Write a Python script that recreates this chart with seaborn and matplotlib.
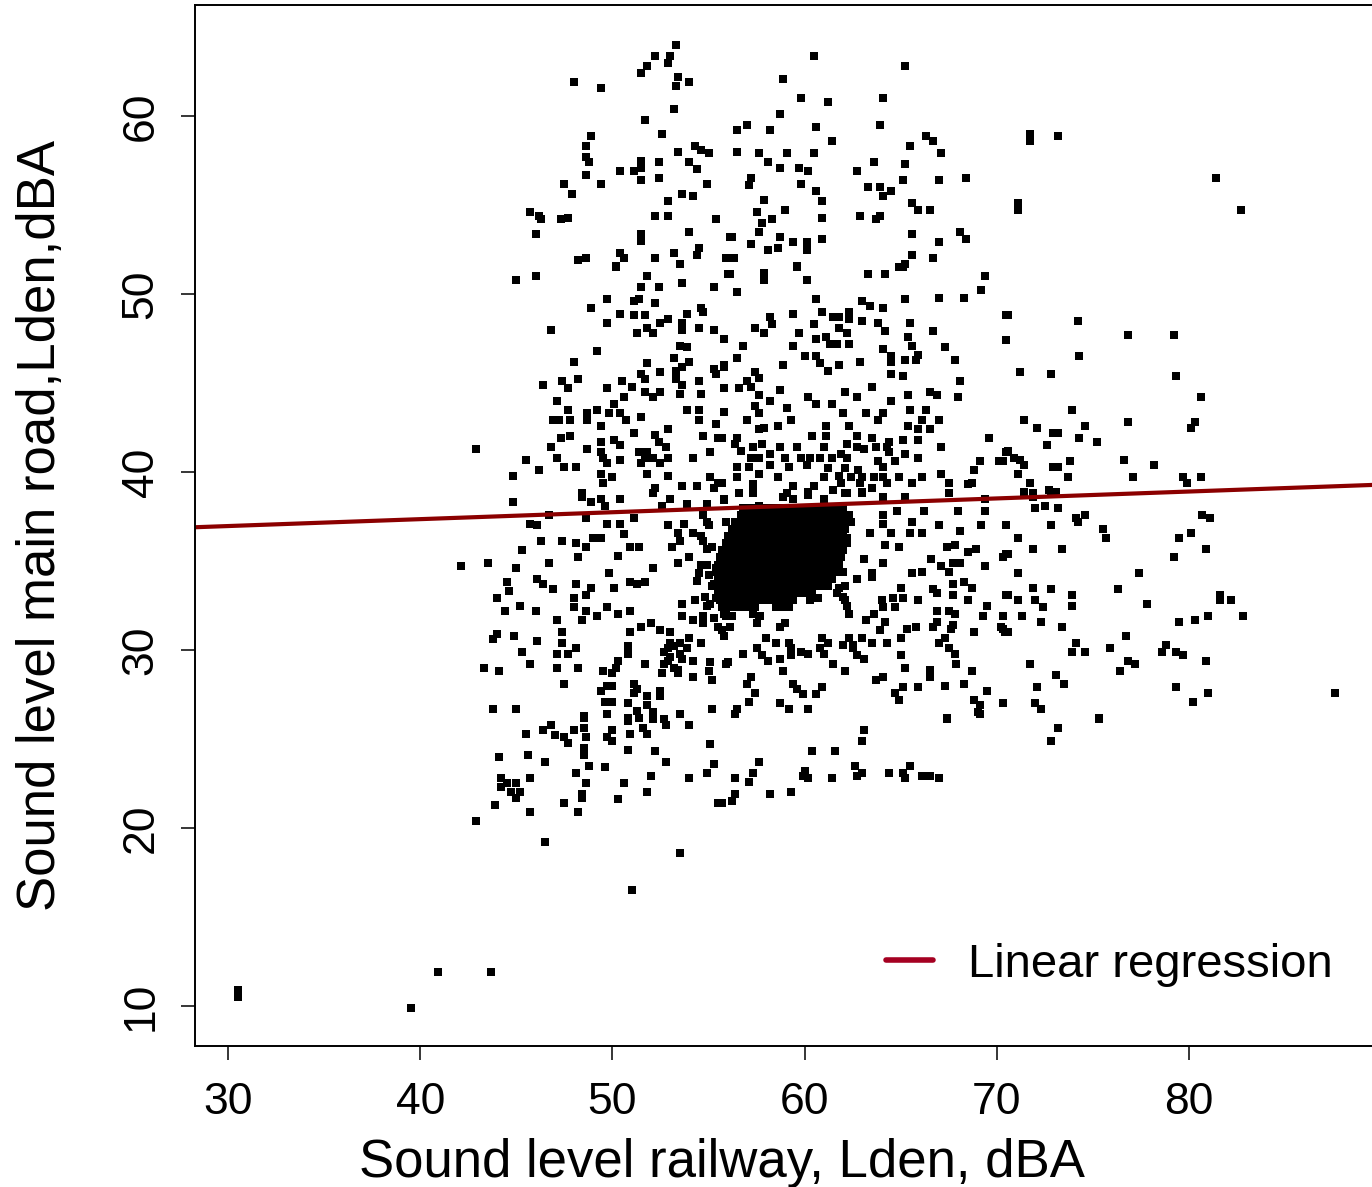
import numpy as np
import pandas as pd
import matplotlib
matplotlib.use("Agg")
import matplotlib.pyplot as plt
import seaborn as sns

# ---------------- data (railway Lden, main road Lden) ----------------
pts_top_left = [(53.3,64.0),(52.2,63.4),(53.0,63.4),(51.8,62.8),(52.9,63.0),(51.5,62.4),(53.4,62.2),(53.3,61.7),(54.0,61.9),(48.0,61.9),(49.4,61.6),(53.2,60.4),(51.7,59.8),(52.6,59.0),(48.9,58.9),(48.6,58.3),(53.4,58.0),(54.3,58.3),(54.6,58.1),(55.0,57.9),(48.6,57.7),(48.8,57.4),(51.5,57.5),(52.4,57.4),(54.0,57.4),(51.5,57.1),(54.4,57.0),(50.4,56.9),(51.1,56.9),(48.6,56.7),(51.5,56.4),(52.4,56.5),(47.5,56.2),(49.4,56.2),(54.9,56.2),(47.9,55.6),(53.6,55.6),(54.2,55.5),(52.9,55.2),(45.7,54.6),(46.2,54.4),(46.3,54.2),(47.3,54.2),(47.7,54.3),(52.2,54.4),(52.9,54.4),(55.4,54.2),(46.0,53.4),(51.5,53.4),(51.5,53.0),(54.0,53.5),(54.5,52.6),(54.4,52.2),(53.2,52.3),(52.2,52.0),(55.9,52.0),(48.2,51.9),(48.6,52.0),(50.4,52.3),(50.6,52.0),(53.5,51.7),(50.2,51.6),(56.1,53.2)]

pts_top_center = [(60.5,63.4),(65.2,62.8),(58.9,62.1),(59.8,61.0),(61.2,60.8),(64.1,61.0),(58.7,60.1),(57.0,59.5),(56.5,59.2),(58.2,59.2),(60.6,59.4),(63.9,59.5),(61.4,58.6),(66.3,58.9),(66.7,58.6),(65.5,58.3),(67.1,57.9),(56.5,58.0),(57.6,57.9),(59.1,57.9),(60.5,57.9),(58.1,57.4),(58.7,57.1),(59.7,57.1),(60.2,56.9),(63.6,57.4),(65.2,57.3),(62.7,56.9),(57.2,56.5),(57.1,56.1),(59.8,56.2),(60.6,55.8),(65.1,56.4),(67.0,56.4),(68.4,56.5),(63.3,56.0),(63.9,56.0),(64.5,55.8),(64.1,55.5),(57.9,55.3),(60.9,55.2),(65.6,55.1),(65.9,54.7),(66.5,54.7),(57.5,54.6),(59.0,54.7),(58.3,54.2),(57.8,54.0),(60.9,54.3),(62.9,54.4),(63.9,54.4),(63.7,54.2),(57.6,53.5),(56.2,53.2),(58.7,53.2),(57.2,52.8),(58.1,52.5),(58.6,52.6),(59.4,52.9),(60.1,52.9),(60.1,52.5),(60.9,53.1),(65.6,53.4),(67.0,52.9),(68.1,53.5),(68.4,53.1),(55.9,52.0),(56.3,52.0),(59.6,51.6),(65.6,52.2),(65.2,51.7),(66.7,52.0),(64.9,51.5)]

pts_top_right = [(71.7,58.6),(71.7,59.0),(73.2,58.9),(81.4,56.5),(71.1,54.7),(71.1,55.1),(82.7,54.7)]

pts_mid_left = [(45.0,50.8),(46.0,51.0),(50.2,51.5),(51.8,51.0),(51.5,50.4),(52.4,50.4),(53.6,50.6),(55.3,50.4),(56.0,51.1),(49.7,49.7),(48.9,49.2),(51.1,49.6),(51.4,49.7),(52.2,49.5),(50.4,48.9),(51.1,48.8),(51.7,48.8),(49.7,48.4),(52.9,48.6),(52.5,48.4),(53.9,48.9),(54.6,49.2),(54.7,49.0),(53.6,48.4),(53.6,48.0),(51.8,48.1),(52.1,47.8),(51.3,47.8),(46.8,48.0),(54.5,48.1),(55.3,48.0),(55.8,47.5),(53.5,47.1),(53.9,47.0),(49.2,46.8),(48.0,46.2),(53.2,46.4),(54.0,46.2),(51.8,46.1),(53.6,45.9),(53.3,45.7),(52.5,45.6),(55.3,45.8),(55.8,46.0),(55.4,45.5),(51.5,45.5),(51.7,45.2),(53.3,45.2),(48.2,45.2),(47.4,45.1),(47.7,44.7),(46.4,44.9),(50.5,45.1),(51.0,44.8),(49.7,44.7),(53.6,44.9),(54.5,45.1),(55.8,44.7),(51.7,44.5),(52.5,44.5),(52.1,44.2),(53.5,44.4),(54.6,44.4),(47.1,44.0),(50.6,44.2),(47.7,43.5),(49.2,43.5),(48.7,43.3),(50.1,43.8),(49.8,43.3),(50.4,43.3),(53.9,43.5),(54.5,43.5),(55.8,43.4),(46.9,42.9),(47.2,42.9),(47.8,42.9),(48.7,42.9),(50.7,42.9),(51.5,43.1),(54.5,42.9),(55.4,42.7),(49.4,42.6),(51.1,42.2),(52.2,42.1),(52.9,42.4),(54.7,42.0),(55.5,41.9),(47.8,42.0),(47.3,41.9),(49.4,41.7),(50.1,41.8),(50.4,41.5),(52.4,41.7),(52.8,41.4),(46.8,41.4),(48.7,41.3),(42.9,41.3),(55.1,41.1),(49.4,41.1),(51.4,41.1),(51.8,41.1),(45.5,40.7),(47.1,40.8),(49.5,40.8),(50.4,40.7),(51.7,40.8),(52.1,40.8),(52.9,40.8),(54.2,40.8),(49.7,40.5),(51.5,40.5),(52.5,40.5),(46.2,40.1),(47.5,40.3),(48.1,40.3),(44.8,39.8),(49.4,39.9),(51.8,39.9),(52.9,39.8),(50.0,39.7),(49.5,39.4),(53.6,39.2),(54.4,39.2),(55.1,39.7),(55.5,39.4),(55.3,39.1),(52.2,39.1),(48.4,38.8)]

pts_mid_center = [(56.1,51.1),(57.9,51.2),(57.9,50.8),(59.6,51.5),(60.1,50.8),(63.3,51.1),(64.2,51.1),(65.1,51.5),(69.4,51.0),(56.5,50.1),(60.6,49.7),(63.0,49.6),(63.4,49.3),(64.1,49.2),(65.2,49.7),(67.0,49.8),(68.3,49.8),(69.2,50.2),(59.4,48.9),(60.9,49.0),(62.3,49.0),(62.3,48.6),(58.2,48.7),(58.3,48.3),(57.4,48.1),(61.5,48.7),(61.8,48.7),(60.5,48.3),(61.8,48.1),(63.0,48.5),(63.8,48.4),(65.5,48.4),(70.5,48.8),(57.9,47.8),(59.7,47.8),(62.2,47.8),(64.2,47.9),(65.4,47.6),(66.7,47.9),(55.8,47.5),(56.8,47.1),(59.4,47.1),(60.6,47.5),(61.1,47.6),(61.3,47.2),(61.7,47.2),(62.3,47.2),(65.6,47.1),(67.3,47.0),(70.5,47.4),(56.5,46.4),(60.0,46.5),(60.6,46.5),(64.1,46.9),(64.5,46.5),(64.5,46.2),(65.2,46.3),(65.9,46.6),(65.8,46.3),(67.8,46.3),(60.8,46.1),(62.9,46.2),(55.8,45.9),(58.9,46.0),(61.2,45.7),(61.8,46.0),(57.4,45.6),(57.6,45.3),(64.5,45.5),(65.1,45.4),(57.0,45.1),(68.1,45.1),(55.8,44.7),(56.6,44.7),(57.2,44.8),(58.7,44.6),(63.5,44.8),(62.1,44.5),(57.6,44.3),(58.2,44.0),(60.2,44.2),(60.6,43.8),(61.4,43.8),(62.7,44.2),(64.5,44.0),(65.4,44.3),(66.5,44.5),(66.9,44.3),(68.0,44.2),(55.8,43.4),(57.4,43.7),(57.6,43.3),(59.1,43.6),(59.3,42.9),(57.0,42.9),(58.6,42.6),(57.6,42.4),(57.9,42.5),(62.0,43.3),(63.2,43.3),(64.1,43.3),(63.8,42.9),(65.5,43.5),(66.3,43.5),(67.0,42.9),(66.1,42.9),(61.1,42.6),(62.3,42.6),(65.4,42.6),(65.9,42.4),(66.5,42.4),(55.7,41.9),(56.5,41.9),(60.4,42.0),(61.1,42.0),(62.7,42.0),(63.5,41.9),(64.4,41.7),(65.1,41.8),(65.9,41.8),(69.6,41.9),(56.4,41.6),(57.3,41.4),(57.8,41.6),(58.7,41.4),(59.6,41.4),(61.0,41.4),(62.2,41.6),(62.7,41.4),(63.1,41.3),(63.7,41.4),(64.3,41.4),(67.1,41.4),(70.5,41.1),(56.7,41.2),(58.2,41.0),(57.2,40.8),(57.6,40.8),(59.0,40.8),(59.8,40.8),(60.3,40.8),(60.8,40.8),(61.4,40.8),(61.9,41.0),(62.2,40.8),(64.4,41.1),(65.2,41.0),(65.9,40.8),(63.8,40.6),(64.7,40.6),(69.1,40.6),(70.1,40.6),(56.5,40.3),(57.1,40.3),(58.2,40.4),(59.2,40.3),(60.1,40.4),(61.2,40.2),(62.1,40.2),(62.8,40.1),(64.1,40.3),(68.8,40.1),(57.6,39.9),(56.5,39.7),(58.6,39.7),(61.0,39.7),(61.8,39.8),(62.4,39.7),(63.0,39.7),(63.6,39.7),(64.1,39.7),(64.9,39.7),(66.1,39.7),(67.1,39.9),(55.7,39.4),(57.3,39.3),(59.4,39.2),(60.5,39.2),(61.9,39.4),(62.9,39.4),(64.3,39.4),(65.6,39.4),(67.5,39.4),(68.5,39.3),(56.6,38.8),(57.3,38.9),(59.1,38.8),(60.2,38.9),(61.5,39.0),(62.1,38.8),(63.0,38.9),(63.5,39.1),(67.5,38.8),(68.7,39.4)]

pts_mid_right = [(70.6,48.8),(74.2,48.5),(76.8,47.7),(79.2,47.7),(70.5,47.4),(74.3,46.5),(71.2,45.6),(72.8,45.5),(79.3,45.4),(80.6,44.2),(73.9,43.5),(71.4,42.9),(72.1,42.5),(74.6,42.6),(76.8,42.8),(80.3,42.8),(80.1,42.5),(72.9,42.2),(73.2,42.2),(74.3,41.9),(75.2,41.7),(72.6,41.5),(70.6,41.2),(70.9,40.8),(71.2,40.7),(70.3,40.6),(71.4,40.4),(71.1,39.9),(72.9,40.3),(73.2,40.3),(73.8,40.6),(76.6,40.7),(78.2,40.4),(73.7,39.7),(77.1,39.7),(79.7,39.7),(80.6,39.7),(79.9,39.4),(71.7,39.4),(72.7,39.0),(73.1,38.9),(71.4,38.9),(71.9,38.8)]

pts_low_left = [(44.8,38.3),(48.4,38.6),(48.9,38.3),(49.4,38.5),(49.6,38.1),(50.4,38.5),(52.1,38.8),(53.0,38.5),(52.6,38.1),(53.9,38.2),(54.9,38.2),(55.8,38.5),(46.7,37.6),(45.7,37.1),(46.1,37.0),(48.6,37.4),(49.7,37.1),(50.4,37.1),(51.1,37.4),(52.9,37.0),(53.7,37.1),(54.7,37.6),(54.9,37.2),(55.9,37.2),(53.4,36.6),(54.2,36.6),(50.6,36.5),(49.0,36.3),(49.4,36.3),(46.3,36.1),(47.4,36.1),(48.1,36.0),(48.6,35.8),(50.9,35.8),(51.4,35.8),(53.5,36.1),(53.1,35.8),(54.7,36.1),(54.9,35.7),(45.3,35.6),(55.9,35.3),(50.3,35.3),(48.2,35.2),(54.0,35.2),(42.1,34.7),(43.5,34.9),(45.0,34.6),(46.7,34.9),(52.1,34.6),(53.4,34.9),(54.6,34.8),(55.4,34.6),(49.8,34.3),(54.5,34.3),(44.5,33.8),(46.1,34.0),(46.4,33.7),(46.9,33.4),(48.1,33.7),(48.9,33.5),(48.6,33.1),(50.1,33.5),(50.9,33.8),(51.3,33.7),(51.7,33.8),(55.3,33.7),(44.6,33.3),(44.0,32.9),(48.0,32.9),(55.4,32.9),(56.0,32.8),(45.2,32.5),(46.0,32.2),(44.4,32.2),(48.0,32.4),(48.6,32.2),(49.7,32.4),(50.9,32.2),(53.6,32.6),(54.9,32.5),(55.9,32.2),(47.1,31.7),(48.4,31.7),(49.2,31.9),(50.3,32.0),(53.6,31.9),(54.2,31.7),(54.7,31.9),(55.9,31.9),(52.0,31.5),(51.5,31.3),(52.5,31.1),(53.0,31.0),(55.5,31.3),(44.0,30.9),(44.9,30.8),(47.4,31.0),(50.9,31.0),(55.8,30.8),(43.8,30.6),(46.1,30.5),(54.0,30.7),(47.4,30.4),(53.0,30.4),(53.5,30.4),(54.6,30.4),(50.8,30.2),(52.9,30.1),(48.1,30.1),(47.7,29.8),(45.3,29.9),(47.1,29.8),(53.9,30.1),(50.8,29.8),(53.0,29.6),(53.5,29.8),(50.3,29.4),(43.3,29.0),(45.7,29.2),(47.1,29.0),(48.2,29.0),(50.2,29.0),(51.7,29.2),(52.7,29.2),(53.2,29.0),(54.2,29.4),(55.1,29.3),(55.9,29.2),(44.1,28.8),(49.5,28.8),(50.0,28.7),(52.6,28.7),(53.4,28.7),(55.0,28.8),(54.2,28.5),(55.2,28.3),(47.5,28.1),(49.7,28.0),(50.0,28.0),(51.1,28.1),(51.3,27.8),(49.4,27.7),(52.5,27.7),(51.8,27.4),(51.1,27.6),(52.5,27.4),(49.6,27.1),(50.0,27.1),(50.8,27.0),(51.8,26.9),(43.8,26.7),(45.0,26.7),(51.3,26.6),(52.1,26.5),(53.5,26.4),(55.2,26.7),(48.5,26.3),(49.7,26.4),(50.8,26.2),(52.1,26.2),
    (52.7,29.9),(53.2,30.2),(53.6,29.5),(52.9,29.4),(53.4,28.9),
    (55.0,34.2),(55.2,33.6),(54.8,33.0),(55.1,32.6),(54.9,34.8),(55.2,35.8),(54.6,36.4),(55.0,37.0),(54.4,33.9),(54.3,32.8),(55.3,31.8),(54.7,31.5)]

pts_low_center = [(56.6,38.8),(57.3,38.8),(58.9,38.6),(59.4,38.5),(60.2,38.7),(61.0,38.5),(62.2,38.8),(63.0,38.8),(64.1,38.6),(65.2,38.6),(67.5,38.8),(69.4,38.5),(55.8,38.4),(57.6,38.1),(64.1,37.6),(64.1,37.1),(64.8,37.8),(66.2,37.8),(68.0,37.8),(69.4,37.8),(65.6,37.2),(67.0,37.0),(68.1,36.7),(69.2,37.0),(70.5,37.0),(63.4,36.6),(64.5,36.6),(65.5,36.6),(66.1,36.6),(62.2,36.3),(64.2,35.9),(64.9,35.8),(67.4,35.8),(67.8,35.9),(68.5,35.5),(68.9,35.7),(70.5,35.4),(70.3,35.2),(63.1,35.1),(64.1,34.9),(66.6,35.1),(67.1,34.7),(67.7,34.9),(68.1,34.9),(69.4,34.7),(67.5,34.4),(66.1,34.4),(65.6,34.3),(62.7,34.0),(63.5,34.1),(63.5,34.3),(67.7,33.7),(68.3,33.8),(68.7,33.5),(65.0,33.5),(66.7,33.4),(66.9,33.2),(67.7,33.1),(68.5,32.8),(70.5,33.1),(64.0,32.8),(64.6,32.9),(65.1,32.9),(65.9,32.8),(69.5,32.5),(62.2,32.5),(62.1,32.8),(64.1,32.4),(64.7,32.4),(66.9,32.2),(67.5,32.2),(67.8,32.0),(62.3,32.0),(63.6,32.0),(63.2,31.7),(69.3,31.9),(70.3,31.9),(66.9,31.6),(57.6,31.9),(57.5,31.5),(56.1,31.3),(55.7,31.1),(59.0,31.5),(58.7,31.3),(64.2,31.6),(63.9,31.1),(65.3,31.2),(65.8,31.3),(66.7,31.3),(67.7,31.4),(67.6,31.2),(68.8,31.0),(70.2,31.3),(70.4,31.0),(58.0,30.7),(58.5,30.4),(59.2,30.4),(60.9,30.7),(61.2,30.4),(62.3,30.7),(62.5,30.3),(63.0,30.7),(63.5,30.4),(64.3,30.4),(65.0,30.7),(67.0,30.4),(67.3,30.7),(67.5,30.1),(67.8,29.8),(56.8,29.8),(57.5,30.1),(57.8,29.7),(58.1,29.4),(59.3,30.1),(59.8,29.9),(60.2,29.8),(59.3,29.7),(60.8,30.1),(61.0,29.8),(62.0,30.3),(62.5,30.1),(62.7,29.7),(63.1,29.5),(58.7,29.5),(65.0,29.7),(67.9,29.2),(56.0,29.3),(61.5,29.2),(58.9,28.8),(62.1,28.8),(65.2,29.0),(66.5,28.9),(66.5,28.5),(68.7,28.8),(57.2,28.5),(57.0,28.1),(59.4,28.1),(59.6,27.8),(59.9,27.5),(57.4,27.6),(60.9,27.9),(60.6,27.5),(63.7,28.3),(64.1,28.5),(65.1,27.9),(64.7,27.6),(65.9,27.9),(67.3,28.0),(68.3,28.1),(69.5,27.7),(64.9,27.2),(68.8,27.2),(69.1,26.9),(70.3,27.0),(57.1,27.1),(56.5,26.7),(58.7,27.0),(59.2,26.7),(60.2,26.7),(69.0,26.5),(67.4,26.2)]

pts_core = [(56.8,38.0),(57.1,38.0),(57.5,38.0),(57.8,38.0),(58.2,38.0),(58.5,38.0),(58.9,38.0),(59.2,38.0),(59.6,38.0),(59.9,38.0),(60.3,38.0),(60.6,38.0),(61.0,38.0),(61.3,38.0),(61.7,38.0),(62.0,38.0),
    (56.7,37.6),(57.0,37.6),(57.4,37.6),(57.7,37.6),(58.1,37.6),(58.4,37.6),(58.8,37.6),(59.1,37.6),(59.5,37.6),(59.8,37.6),(60.2,37.6),(60.5,37.6),(60.9,37.6),(61.2,37.6),(61.6,37.6),(61.9,37.6),(62.3,37.6),
    (56.4,37.2),(56.8,37.2),(57.1,37.2),(57.5,37.2),(57.8,37.2),(58.2,37.2),(58.5,37.2),(58.9,37.2),(59.2,37.2),(59.6,37.2),(59.9,37.2),(60.3,37.2),(60.6,37.2),(61.0,37.2),(61.3,37.2),(61.7,37.2),(62.0,37.2),(62.4,37.2),
    (56.2,36.8),(56.5,36.8),(56.9,36.8),(57.2,36.8),(57.6,36.8),(57.9,36.8),(58.3,36.8),(58.6,36.8),(59.0,36.8),(59.3,36.8),(59.7,36.8),(60.0,36.8),(60.4,36.8),(60.7,36.8),(61.1,36.8),(61.4,36.8),(61.8,36.8),(62.1,36.8),
    (56.0,36.4),(56.4,36.4),(56.7,36.4),(57.1,36.4),(57.4,36.4),(57.8,36.4),(58.1,36.4),(58.5,36.4),(58.8,36.4),(59.2,36.4),(59.5,36.4),(59.9,36.4),(60.2,36.4),(60.6,36.4),(60.9,36.4),(61.3,36.4),(61.6,36.4),(62.0,36.4),
    (55.9,36.0),(56.2,36.0),(56.6,36.0),(56.9,36.0),(57.3,36.0),(57.6,36.0),(58.0,36.0),(58.3,36.0),(58.7,36.0),(59.0,36.0),(59.4,36.0),(59.7,36.0),(60.1,36.0),(60.4,36.0),(60.8,36.0),(61.1,36.0),(61.5,36.0),(61.8,36.0),(62.2,36.0),
    (55.7,35.6),(56.1,35.6),(56.4,35.6),(56.8,35.6),(57.1,35.6),(57.5,35.6),(57.8,35.6),(58.2,35.6),(58.5,35.6),(58.9,35.6),(59.2,35.6),(59.6,35.6),(59.9,35.6),(60.3,35.6),(60.6,35.6),(61.0,35.6),(61.3,35.6),(61.7,35.6),(62.0,35.6),
    (55.6,35.2),(56.0,35.2),(56.3,35.2),(56.7,35.2),(57.0,35.2),(57.4,35.2),(57.7,35.2),(58.1,35.2),(58.4,35.2),(58.8,35.2),(59.1,35.2),(59.5,35.2),(59.8,35.2),(60.2,35.2),(60.5,35.2),(60.9,35.2),(61.2,35.2),(61.6,35.2),(61.9,35.2),
    (55.5,34.8),(55.9,34.8),(56.2,34.8),(56.6,34.8),(56.9,34.8),(57.3,34.8),(57.6,34.8),(58.0,34.8),(58.3,34.8),(58.7,34.8),(59.0,34.8),(59.4,34.8),(59.7,34.8),(60.1,34.8),(60.4,34.8),(60.8,34.8),(61.1,34.8),(61.5,34.8),(61.8,34.8),
    (55.4,34.4),(55.8,34.4),(56.1,34.4),(56.5,34.4),(56.8,34.4),(57.2,34.4),(57.5,34.4),(57.9,34.4),(58.2,34.4),(58.6,34.4),(58.9,34.4),(59.3,34.4),(59.6,34.4),(60.0,34.4),(60.3,34.4),(60.7,34.4),(61.0,34.4),(61.4,34.4),(61.7,34.4),(62.0,34.4),
    (55.5,34.0),(55.8,34.0),(56.2,34.0),(56.5,34.0),(56.9,34.0),(57.2,34.0),(57.6,34.0),(57.9,34.0),(58.3,34.0),(58.6,34.0),(59.0,34.0),(59.3,34.0),(59.7,34.0),(60.0,34.0),(60.4,34.0),(60.7,34.0),(61.1,34.0),(61.4,34.0),
    (55.6,33.6),(55.9,33.6),(56.3,33.6),(56.6,33.6),(57.0,33.6),(57.3,33.6),(57.7,33.6),(58.0,33.6),(58.4,33.6),(58.7,33.6),(59.1,33.6),(59.4,33.6),(59.8,33.6),(60.1,33.6),(60.5,33.6),(60.8,33.6),(61.2,33.6),(61.8,33.5),(62.1,33.6),
    (55.5,33.2),(55.8,33.2),(56.2,33.2),(56.5,33.2),(56.9,33.2),(57.2,33.2),(57.6,33.2),(57.9,33.2),(58.3,33.2),(58.6,33.2),(59.0,33.2),(59.3,33.2),(59.7,33.2),(60.0,33.2),(60.4,33.2),(61.7,33.2),(62.0,33.0),
    (55.6,32.8),(55.9,32.8),(56.3,32.8),(56.6,32.8),(57.0,32.8),(57.3,32.8),(57.7,32.8),(58.0,32.8),(58.4,32.8),(58.7,32.8),(59.1,32.8),(59.4,32.8),(60.3,32.8),(60.7,32.9),
    (55.7,32.4),(56.0,32.4),(56.4,32.4),(56.7,32.4),(57.1,32.4),(57.4,32.4),(58.5,32.4),(58.9,32.4),(59.2,32.4),
    (55.8,32.0),(56.2,31.9),(57.3,32.0),(57.7,31.9)]

pts_low_right = [(71.9,38.6),(72.8,38.9),(73.1,38.8),(72.0,38.0),(72.5,38.1),(73.2,38.0),(71.4,38.8),(74.1,37.4),(74.6,37.6),(74.2,37.2),(80.7,37.6),(81.1,37.4),(70.5,37.0),(72.8,37.0),(75.5,36.8),(75.7,36.3),(80.1,36.6),(79.5,36.3),(71.1,36.3),(71.9,35.7),(73.4,35.7),(80.9,35.7),(70.6,35.4),(70.3,35.2),(79.2,35.2),(71.1,34.3),(77.4,34.3),(71.9,33.5),(72.8,33.4),(76.3,33.4),(70.6,33.1),(71.1,32.8),(72.0,32.8),(73.9,33.1),(73.9,32.5),(72.4,32.4),(77.8,32.6),(81.6,33.1),(81.6,32.8),(82.2,32.8),(70.3,31.9),(71.3,31.9),(72.3,31.6),(73.4,31.3),(79.5,31.6),(80.3,31.7),(81.0,31.9),(82.8,31.9),(70.3,31.2),(70.6,31.0),(76.7,30.8),(74.1,30.4),(73.9,29.9),(74.6,29.9),(75.9,30.1),(78.8,30.3),(78.6,29.9),(79.3,29.9),(79.7,29.7),(80.9,29.4),(76.8,29.4),(77.2,29.2),(76.4,28.8),(71.7,29.2),(73.1,28.6),(73.5,28.1),(72.1,27.9),(79.3,27.9),(81.0,27.6),(80.2,27.1),(70.3,27.0),(72.0,27.0),(72.3,26.7),(75.3,26.2),(87.6,27.6)]

pts_bottom = [(48.5,26.2),(50.8,26.0),(51.4,26.2),(52.1,26.1),(52.7,26.1),(51.6,25.6),(51.8,25.3),(52.8,25.8),(54.0,25.8),(46.8,25.8),(46.4,25.5),(45.5,25.3),(47.0,25.2),(47.5,25.1),(47.7,24.8),(48.0,25.5),(48.5,25.6),(48.6,25.1),(48.5,24.5),(48.5,24.1),(49.7,25.1),(50.0,25.5),(50.0,24.9),(50.9,25.3),(50.8,24.4),(52.2,24.3),(52.8,23.7),(55.1,24.7),(55.3,23.6),(54.9,23.1),(54.0,22.8),(44.1,24.0),(45.6,24.1),(46.5,23.7),(48.8,23.5),(49.6,23.4),(48.1,23.1),(52.0,22.9),(44.2,22.8),(45.7,22.8),(44.5,22.5),(45.0,22.5),(44.2,22.3),(44.7,22.0),(45.2,22.0),(45.0,21.7),(48.6,22.5),(50.6,22.5),(51.8,22.0),(48.4,21.9),(48.4,21.7),(50.3,21.6),(43.9,21.3),(47.5,21.4),(48.2,20.9),(45.7,20.9),(55.5,21.4),(42.9,20.4),(46.5,19.2),(53.5,18.6),(51.0,16.5),
    (56.4,26.4),(67.4,26.1),(69.1,26.4),(63.1,25.5),(63.0,24.9),(60.4,24.3),(61.6,24.3),(57.6,23.7),(62.6,23.5),(65.5,23.5),(57.3,23.1),(60.0,23.2),(63.0,23.1),(64.4,23.1),(65.1,23.1),(56.4,22.8),(57.1,22.6),(59.9,22.9),(60.2,22.8),(61.4,22.8),(62.7,22.9),(65.2,22.8),(66.1,22.9),(66.5,22.9),(67.0,22.8),(56.4,21.9),(56.2,21.5),(58.2,21.9),(59.3,22.0),(55.7,21.4),
    (75.3,26.1),(73.2,25.6),(72.8,24.9)]

pts_outliers = [(30.5,10.9),(30.5,10.5),(39.5,9.9),(40.9,11.9),(43.7,11.9)]

reg_intercept = 35.8
reg_slope = 0.0388

x_ticks = [30, 40, 50, 60, 70, 80]
y_ticks = [10, 20, 30, 40, 50, 60]
x_label = "Sound level railway, Lden, dBA"
y_label = "Sound level main road,Lden,dBA"
legend_label = "Linear regression"

# ---------------- build table ----------------
all_pts = (pts_top_left + pts_top_center + pts_top_right + pts_mid_left + pts_mid_center
           + pts_mid_right + pts_low_left + pts_low_center + pts_core + pts_low_right
           + pts_bottom + pts_outliers)
df = pd.DataFrame(all_pts, columns=["railway", "mainroad"])

# ---------------- plot ----------------
sns.set_theme(style="white")
plt.rcParams["font.family"] = ["Liberation Sans", "DejaVu Sans"]
plt.rcParams["text.color"] = "black"

fig = plt.figure(figsize=(13.72, 11.87), dpi=100)
ax = fig.add_axes([195/1372, 1 - 1046/1187, 1 - 195/1372, (1046 - 5)/1187])

sns.scatterplot(data=df, x="railway", y="mainroad", marker="s", s=32, color="black",
                linewidth=0, ax=ax, legend=False)

ax.set_xlim(28.28, 89.52)
ax.set_ylim(7.75, 66.24)

xs = np.array(ax.get_xlim())
line_df = pd.DataFrame({"x": xs, "y": reg_intercept + reg_slope * xs})
sns.lineplot(data=line_df, x="x", y="y", color="#8B0000", linewidth=3.0, ax=ax,
             label=legend_label)

ax.set_xticks(x_ticks)
ax.set_yticks(y_ticks)
ax.tick_params(axis="both", which="major", direction="out", length=10, width=1.1,
               color="black", labelsize=32, labelcolor="black", bottom=True, left=True)
ax.tick_params(axis="x", pad=16)
ax.tick_params(axis="y", pad=14)
for lab in ax.get_yticklabels():
    lab.set_rotation(90)
    lab.set_va("center")

for side in ["left", "bottom", "top"]:
    ax.spines[side].set_visible(True)
    ax.spines[side].set_color("black")
    ax.spines[side].set_linewidth(1.4)
ax.spines["right"].set_visible(False)

ax.set_xlabel(x_label, fontsize=38, color="black")
ax.set_ylabel(y_label, fontsize=38, color="black")
ax.xaxis.set_label_coords((722 - 195)/1177, -0.088)
ax.yaxis.set_label_coords((66 - 195)/1177, 0.5)

leg = ax.legend(loc="center right", bbox_to_anchor=(1.003, 0.078), frameon=False,
                fontsize=34, handlelength=1.0, handletextpad=0.75)
for t in leg.get_texts():
    t.set_color("black")
for h in leg.get_lines():
    h.set_linewidth(4)
    h.set_color("#A50021")

fig.savefig("out.png", dpi=100)
